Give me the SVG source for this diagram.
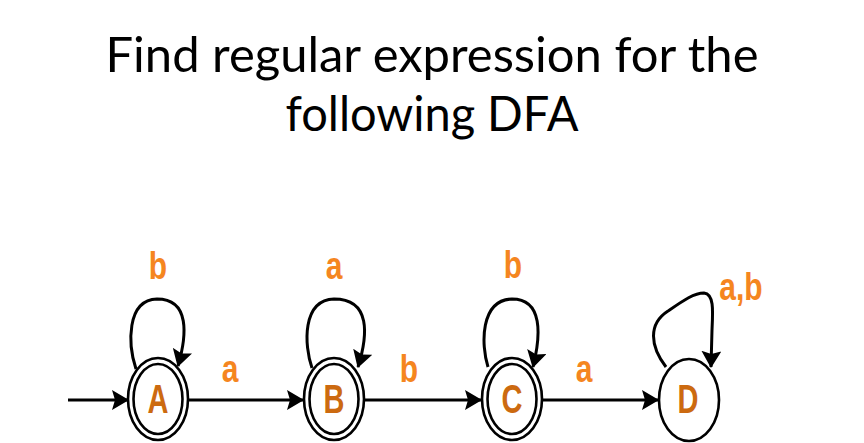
<svg xmlns="http://www.w3.org/2000/svg" width="864" height="443" viewBox="0 0 864 443">
  <style>
    .title { font-family: Lato, "Liberation Sans", sans-serif; font-size: 49px; fill: #000; text-anchor: middle; }
    .state { fill: #fff; stroke: #000; stroke-width: 2.6; }
    .name { font-family: "Liberation Sans", Arial, sans-serif; font-weight: bold; font-size: 29px; fill: #CC6A10; text-anchor: middle; }
    .lbl { font-family: "Liberation Sans", Arial, sans-serif; font-weight: bold; font-size: 30px; fill: #F5861F; text-anchor: middle; }
    .edge { fill: none; stroke: #000; stroke-width: 3; }
  </style>
  <defs>
    <marker id="arr" viewBox="0 0 17 20" refX="16" refY="10" markerWidth="17" markerHeight="20" markerUnits="userSpaceOnUse" orient="auto">
      <path d="M0,0 L17,10 L0,20 L3,10 z" fill="#000"/>
    </marker>
  </defs>
  <rect width="864" height="443" fill="#fff"/>

  <g id="title">
    <text class="title" x="432" y="72" textLength="653" lengthAdjust="spacingAndGlyphs">Find regular expression for the</text>
    <text class="title" x="432" y="131" textLength="293" lengthAdjust="spacingAndGlyphs">following DFA</text>
  </g>

  <g id="connectors">
    <line class="edge" x1="68" y1="400" x2="128" y2="400" marker-end="url(#arr)"/>
    <line class="edge" x1="188" y1="400" x2="303" y2="400" marker-end="url(#arr)"/>
    <line class="edge" x1="364" y1="400" x2="481" y2="400" marker-end="url(#arr)"/>
    <line class="edge" x1="542" y1="400" x2="658" y2="400" marker-end="url(#arr)"/>
    <path class="edge" d="M136 369 C128 345, 126 300, 157 299 C190 299, 187 335, 178 366" marker-end="url(#arr)"/>
    <path class="edge" d="M312 368 C304 345, 302 300, 334 299 C371 299, 368 335, 358 367" marker-end="url(#arr)"/>
    <path class="edge" d="M488 367 C481 345, 480 300, 512 299 C543 299, 541 335, 533 367" marker-end="url(#arr)"/>
    <path class="edge" d="M666 367 C650 346, 648 324, 668 311 C684 300, 694 293, 704 293 C714 294, 713 310, 712 330 L711 367" marker-end="url(#arr)"/>
    <text class="lbl" transform="translate(158,279) scale(1,1.3)">b</text>
    <text class="lbl" transform="translate(230,382) scale(1,1.3)">a</text>
    <text class="lbl" transform="translate(334,279) scale(1,1.3)">a</text>
    <text class="lbl" transform="translate(409,382) scale(1,1.3)">b</text>
    <text class="lbl" transform="translate(513,278) scale(1,1.3)">b</text>
    <text class="lbl" transform="translate(584,382) scale(1,1.3)">a</text>
    <text class="lbl" transform="translate(741,300) scale(1,1.3)">a,b</text>
  </g>

  <g id="node-A">
    <ellipse class="state" cx="158" cy="399" rx="30" ry="41"/>
    <ellipse class="state" cx="158" cy="399" rx="24.5" ry="35"/>
    <text class="name" transform="translate(158,413) scale(1,1.42)">A</text>
  </g>
  <g id="node-B">
    <ellipse class="state" cx="334" cy="399" rx="30" ry="41"/>
    <ellipse class="state" cx="334" cy="399" rx="24.5" ry="35"/>
    <text class="name" transform="translate(334,413) scale(1,1.42)">B</text>
  </g>
  <g id="node-C">
    <ellipse class="state" cx="512" cy="399" rx="30" ry="41"/>
    <ellipse class="state" cx="512" cy="399" rx="24.5" ry="35"/>
    <text class="name" transform="translate(512,413) scale(1,1.42)">C</text>
  </g>
  <g id="node-D">
    <ellipse class="state" cx="689" cy="400" rx="30" ry="41"/>
    <text class="name" transform="translate(688,413) scale(1,1.42)">D</text>
  </g>
</svg>
